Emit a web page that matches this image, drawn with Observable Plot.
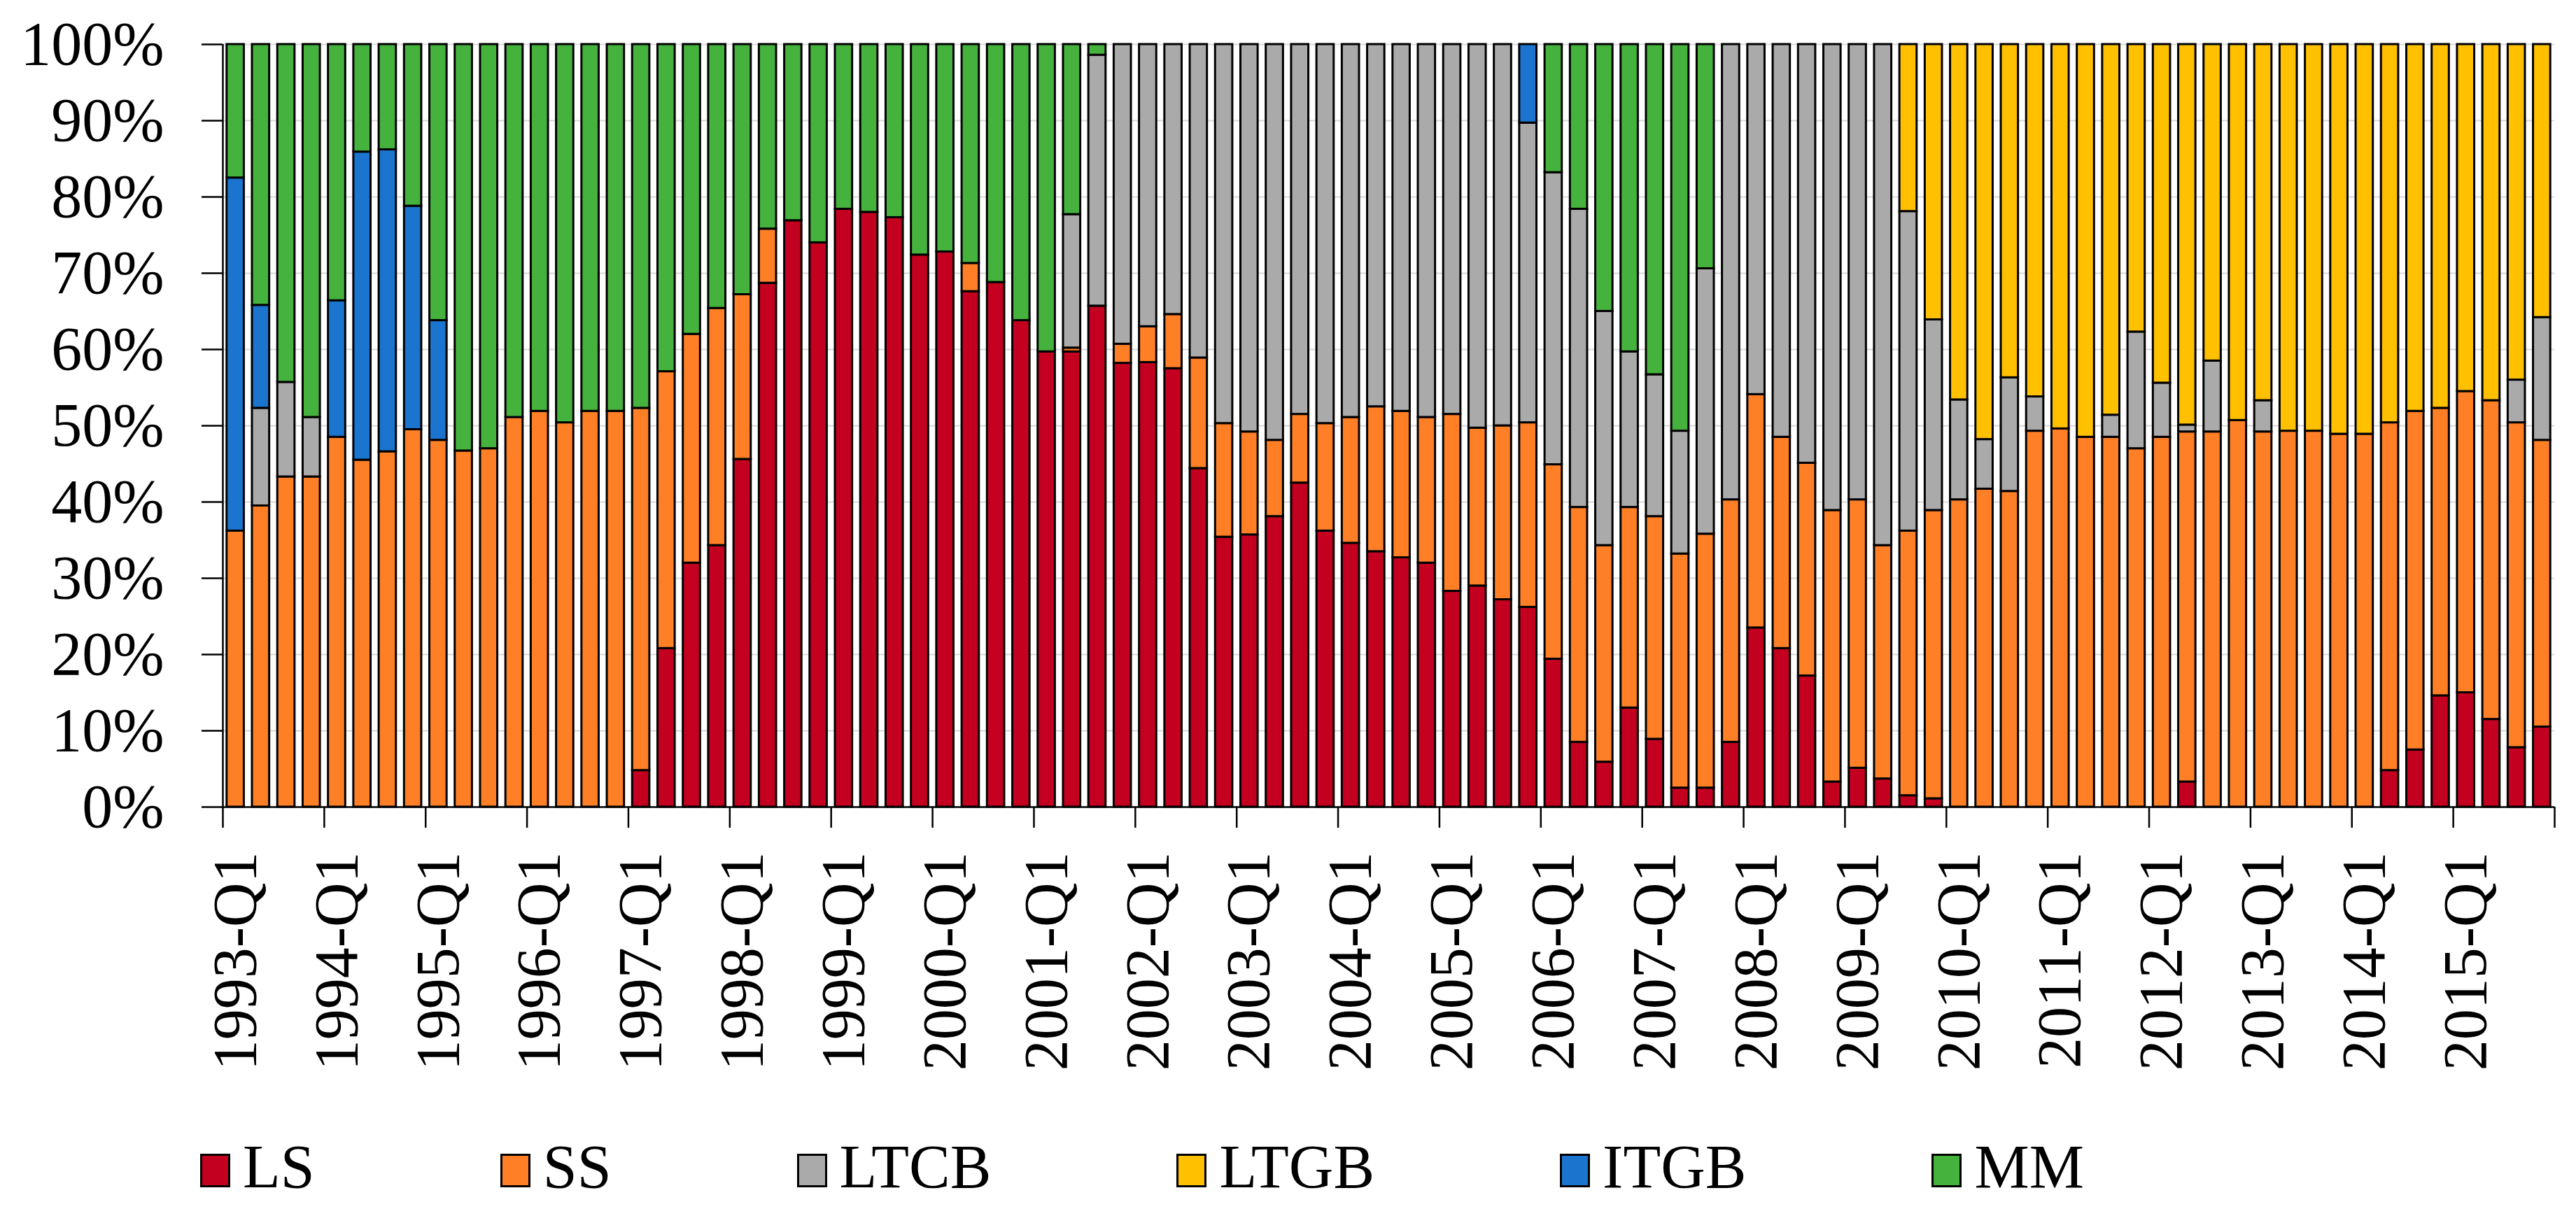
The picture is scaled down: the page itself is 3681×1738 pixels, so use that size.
<!DOCTYPE html>
<html>
<head>
<meta charset="utf-8">
<script src="https://cdn.jsdelivr.net/npm/d3@7"></script>
<script src="https://cdn.jsdelivr.net/npm/@observablehq/plot@0.6"></script>
<style>
html, body { margin: 0; padding: 0; background: #fff; }
#chart svg { display: block; }
.legend { display: flex; align-items: baseline; margin-left: 286px; gap: 265px; padding-top: 64px;
  font-family: "Liberation Serif", "Times New Roman", serif; font-size: 88px; line-height: 88px; color: #000; }
.item { display: flex; align-items: baseline; }
.sw { width: 37px; height: 42px; border: 3px solid #000; margin-right: 18px; }
</style>
</head>
<body>
<div id="chart"></div>
<div class="legend" id="legend"></div>
<script>
const seriesNames = ["LS", "SS", "LTCB", "LTGB", "ITGB", "MM"];
const colors = ["#C3001F", "#FF7F27", "#AAAAAA", "#FFC000", "#1B75CF", "#46B23E"];
const years = d3.range(1993, 2016);
const quarters = years.flatMap(y => [1, 2, 3, 4].map(q => `${y}-Q${q}`));
const q1Labels = years.map(y => `${y}-Q1`);
const yTicks = [0, 10, 20, 30, 40, 50, 60, 70, 80, 90, 100];

// values per quarter, 1993-Q1 ... 2015-Q4 (percent)
const LS = [
  0,0,0,0, 0,0,0,0, 0,0,0,0, 0,0,0,0,
  4.8,20.8,32.0,34.3, 45.6,68.7,76.9,74.0, 78.4,78.0,77.3,72.4, 72.8,67.6,68.8,63.8,
  59.7,59.7,65.7,58.2, 58.3,57.5,44.4,35.4, 35.7,38.1,42.5,36.2, 34.6,33.5,32.7,32.0,
  28.3,29.0,27.2,26.2, 19.4,8.5,5.9,13.0, 8.9,2.5,2.5,8.5, 23.5,20.8,17.2,3.3,
  5.1,3.7,1.5,1.1, 0,0,0,0, 0,0,0,0, 0,3.3,0,0,
  0,0,0,0, 0,4.8,7.5,14.6, 15.0,11.5,7.8,10.5
];
const SS = [
  36.2,39.5,43.3,43.3, 48.5,45.5,46.6,49.5, 48.1,46.7,47.0,51.1, 51.9,50.4,51.9,51.9,
  47.5,36.3,30.0,31.1, 21.6,7.1,0,0, 0,0,0,0, 0,3.7,0,0,
  0,0.5,0,2.5, 4.7,7.1,14.5,14.9, 13.5,10.0,9.0,14.1, 16.5,19.0,19.2,19.1,
  23.2,20.7,22.8,24.2, 25.5,30.8,28.4,26.3, 29.2,30.7,33.3,31.8, 30.6,27.7,27.9,35.6,
  35.2,30.6,34.7,37.8, 40.3,41.7,41.4,49.3, 49.6,48.5,48.5,47.0, 48.5,45.9,49.2,50.7,
  49.2,49.3,49.3,48.9, 48.9,45.6,44.4,37.7, 39.5,41.8,42.6,37.6
];
const LTCB = [
  0,12.8,12.4,7.8, 0,0,0,0, 0,0,0,0, 0,0,0,0,
  0,0,0,0, 0,0,0,0, 0,0,0,0, 0,0,0,0,
  0,17.5,32.9,39.3, 37.0,35.4,41.1,49.7, 50.8,51.9,48.5,49.7, 48.9,47.5,48.1,48.9,
  48.5,50.3,50.0,39.3, 38.3,39.1,30.7,20.4, 18.6,16.1,34.8,59.7, 45.9,51.5,54.9,61.1,
  59.7,65.7,41.9,25.0, 13.1,6.5,14.9,4.5, 0,0,2.9,15.3, 7.1,0.9,9.3,0,
  4.1,0,0,0, 0,0,0,0, 0,0,5.6,16.1
];
const LTGB = [
  0,0,0,0, 0,0,0,0, 0,0,0,0, 0,0,0,0,
  0,0,0,0, 0,0,0,0, 0,0,0,0, 0,0,0,0,
  0,0,0,0, 0,0,0,0, 0,0,0,0, 0,0,0,0,
  0,0,0,0, 0,0,0,0, 0,0,0,0, 0,0,0,0,
  0,0,21.9,36.1, 46.6,51.8,43.7,46.2, 50.4,51.5,48.6,37.7, 44.4,49.9,41.5,49.3,
  46.7,50.7,50.7,51.1, 51.1,49.6,48.1,47.7, 45.5,46.7,44.0,35.8
];
const ITGB = [
  46.3,13.5,0,0, 17.9,40.4,39.6,29.3, 15.7,0,0,0, 0,0,0,0,
  0,0,0,0, 0,0,0,0, 0,0,0,0, 0,0,0,0,
  0,0,0,0, 0,0,0,0, 0,0,0,0, 0,0,0,0,
  0,0,0,10.3, 0,0,0,0, 0,0,0,0, 0,0,0,0,
  0,0,0,0, 0,0,0,0, 0,0,0,0, 0,0,0,0,
  0,0,0,0, 0,0,0,0, 0,0,0,0
];
const MM = [
  17.5,34.2,44.3,48.9, 33.6,14.1,13.8,21.2, 36.2,53.3,53.0,48.9, 48.1,49.6,48.1,48.1,
  47.7,42.9,38.0,34.6, 32.8,24.2,23.1,26.0, 21.6,22.0,22.7,27.6, 27.2,28.7,31.2,36.2,
  40.3,22.3,1.4,0, 0,0,0,0, 0,0,0,0, 0,0,0,0,
  0,0,0,0, 16.8,21.6,35.0,40.3, 43.3,50.7,29.4,0, 0,0,0,0,
  0,0,0,0, 0,0,0,0, 0,0,0,0, 0,0,0,0,
  0,0,0,0, 0,0,0,0, 0,0,0,0
];
const seriesValues = [LS, SS, LTCB, LTGB, ITGB, MM];

const data = [];
seriesNames.forEach((s, k) => {
  seriesValues[k].forEach((v, i) => {
    if (v > 0) data.push({quarter: quarters[i], series: s, value: v});
  });
});

const W = 3681, H = 1560, mL = 318, mR = 31, mT = 63, mB = 407;
const n = quarters.length;
const step = (W - mL - mR) / n;

const chart = Plot.plot({
  width: W, height: H,
  marginLeft: mL, marginRight: mR, marginTop: mT, marginBottom: mB,
  style: {fontFamily: '"Liberation Serif", "Times New Roman", serif', fontSize: "88px", color: "#000", background: "#fff"},
  x: {type: "band", domain: quarters, paddingInner: 0.32, paddingOuter: 0.16, round: false, axis: null, label: null},
  y: {domain: [0, 100], axis: null, label: null},
  color: {domain: seriesNames, range: colors},
  marks: [
    Plot.gridY(yTicks.slice(1), {stroke: "#d9d9d9", strokeOpacity: 1, strokeWidth: 2}),
    Plot.barY(data, {x: "quarter", y: "value", fill: "series", z: "series", order: seriesNames, stroke: "#000", strokeWidth: 3}),
    Plot.ruleY([0], {stroke: "#000", strokeWidth: 2.5}),
    Plot.ruleX([quarters[0]], {y1: 0, y2: 100, dx: -step / 2, stroke: "#000", strokeWidth: 2.5}),
    Plot.axisY({ticks: yTicks, tickFormat: d => d + "%", tickSize: 30, tickPadding: 54, fontSize: 88, strokeWidth: 2.5, label: null}),
    Plot.axisX({ticks: q1Labels, tickSize: 0, tickPadding: 64, tickRotate: -90, fontSize: 88, label: null}),
    Plot.axisX({ticks: q1Labels, tickSize: 30, tickFormat: () => "", dx: -step / 2, strokeWidth: 2.5, label: null}),
    Plot.axisX({ticks: [quarters[n - 1]], tickSize: 30, tickFormat: () => "", dx: step / 2, strokeWidth: 2.5, label: null})
  ]
});
document.getElementById("chart").appendChild(chart);

const legend = document.getElementById("legend");
seriesNames.forEach((s, k) => {
  const item = document.createElement("div");
  item.className = "item";
  const sw = document.createElement("div");
  sw.className = "sw";
  sw.style.background = colors[k];
  const t = document.createElement("span");
  t.textContent = s;
  item.appendChild(sw);
  item.appendChild(t);
  legend.appendChild(item);
});
</script>
</body>
</html>
